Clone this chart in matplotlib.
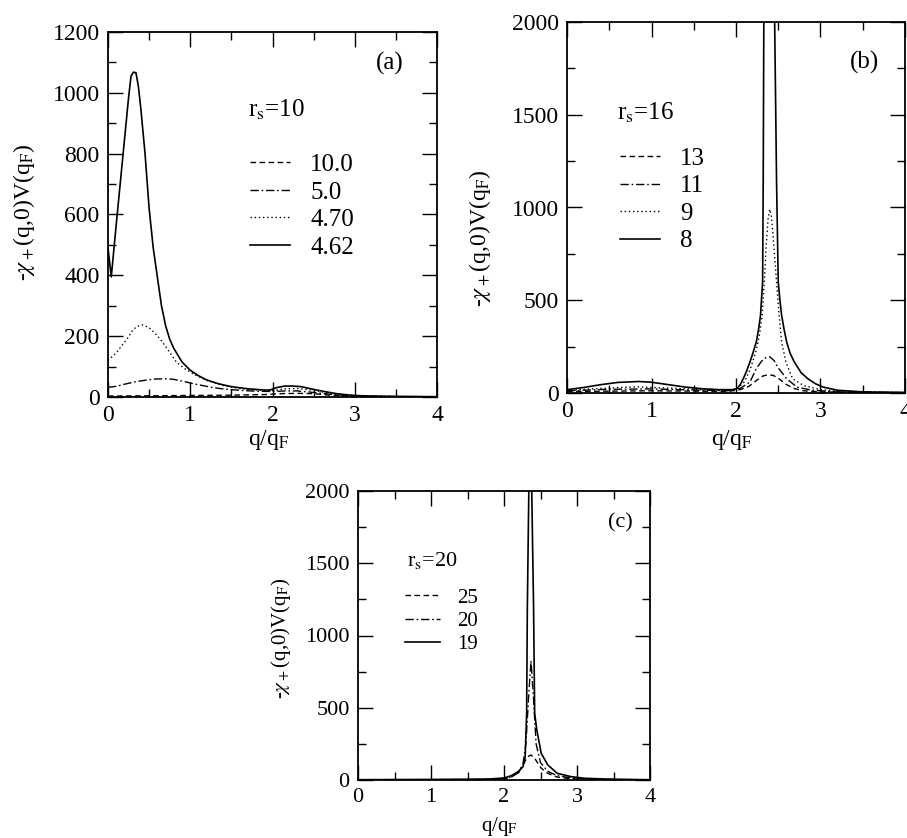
import numpy as np
import matplotlib
matplotlib.use("Agg")
import matplotlib.pyplot as plt
from matplotlib.ticker import MultipleLocator

plt.rcParams['font.family'] = ['Liberation Serif', 'DejaVu Serif']
plt.rcParams['mathtext.fontset'] = 'stix'

# ---------------- data ----------------
# panel (a), r_s = 10
qa_solid = [0, 0.04, 0.1, 0.15, 0.2, 0.25, 0.28, 0.31, 0.34, 0.37, 0.4, 0.45, 0.5,
            0.55, 0.6, 0.65, 0.7, 0.75, 0.8, 0.9, 1.0, 1.1, 1.2, 1.35, 1.5, 1.7,
            1.9, 1.97, 2.05, 2.15, 2.25, 2.35, 2.5, 2.65, 2.8, 3.0, 3.2, 3.5, 4.0]
va_solid = [490, 395, 567, 706, 845, 984, 1055, 1068, 1066, 1020, 946, 801, 620,
            490, 395, 300, 235, 190, 160, 115, 88, 70, 56, 43, 34, 27,
            23, 23, 31, 36, 36, 34, 25, 17, 10, 5, 3, 2, 1]
qa_dot = [0, 0.1, 0.2, 0.25, 0.3, 0.35, 0.42, 0.5, 0.57, 0.65, 0.73, 0.83, 0.94,
          1.05, 1.2, 1.4, 1.6, 1.8, 2.0, 2.15, 2.3, 2.5, 2.7, 3.0, 3.5, 4.0]
va_dot = [120, 145, 180, 198, 220, 232, 237, 228, 210, 185, 155, 115, 92,
          74, 55, 38, 28, 23, 21, 27, 28, 22, 12, 4, 2, 1]
qa_dashdot = [0, 0.1, 0.2, 0.33, 0.45, 0.57, 0.7, 0.8, 0.94, 1.05, 1.18, 1.3, 1.42,
              1.6, 1.8, 2.0, 2.15, 2.3, 2.5, 2.7, 3.0, 3.5, 4.0]
va_dashdot = [32, 35, 42, 50, 55, 59, 60, 58, 50, 43, 36, 30, 26,
              22, 19, 18, 20, 20, 15, 9, 3, 1, 0.5]
qa_dash = [0, 0.5, 1.0, 1.5, 1.9, 2.1, 2.3, 2.5, 2.7, 3.0, 3.5, 4.0]
va_dash = [3, 4, 5, 6, 8, 11, 12, 11, 6, 2, 1, 0.5]
labels_a = ['10.0', '5.0', '4.70', '4.62']

# panel (b), r_s = 16
qb_solid = [0, 0.2, 0.4, 0.6, 0.85, 1.0, 1.2, 1.4, 1.6, 1.8, 1.95, 2.01, 2.05,
            2.086, 2.125, 2.165, 2.2, 2.24, 2.27, 2.29, 2.315, 2.322, 2.33, 2.40,
            2.455, 2.48, 2.50, 2.52, 2.54, 2.57, 2.60, 2.64, 2.69, 2.77, 2.85,
            2.94, 3.03, 3.2, 3.5, 4.0]
vb_solid = [18, 30, 45, 57, 62, 58, 45, 32, 23, 18, 18, 23, 45,
            77, 118, 167, 215, 275, 350, 419, 598, 1137, 2100, 3000,
            2100, 1137, 598, 500, 419, 340, 275, 215, 167, 110, 77,
            50, 32, 15, 6, 3]
qb_dot = [0, 0.4, 0.8, 1.3, 1.7, 2.0, 2.1, 2.17, 2.24, 2.28, 2.31, 2.335, 2.355,
          2.38, 2.40, 2.42, 2.435, 2.46, 2.48, 2.51, 2.54, 2.59, 2.67, 2.8, 3.0,
          3.2, 3.5, 4.0]
vb_dot = [15, 25, 33, 25, 15, 18, 60, 130, 230, 320, 419, 598, 778,
          940, 990, 950, 868, 720, 598, 419, 275, 167, 77, 40, 18,
          10, 5, 2]
qb_dashdot = [0, 0.5, 1.0, 1.5, 1.9, 2.05, 2.165, 2.24, 2.3, 2.35, 2.40, 2.45,
              2.5, 2.6, 2.72, 2.9, 3.2, 4.0]
vb_dashdot = [12, 20, 22, 16, 12, 25, 59, 131, 170, 190, 195, 175,
              135, 77, 32, 15, 6, 2]
qb_dash = [0, 0.5, 1.0, 1.5, 1.9, 2.05, 2.15, 2.25, 2.32, 2.38, 2.44, 2.5, 2.58,
           2.68, 2.8, 3.0, 3.5, 4.0]
vb_dash = [8, 10, 12, 10, 8, 18, 35, 70, 92, 98, 95, 80, 50,
           25, 12, 6, 3, 1]
labels_b = ['13', '11', '9', '8']

# panel (c), r_s = 20
qc_solid = [0, 0.5, 1.0, 1.5, 1.8, 2.0, 2.1, 2.2, 2.26, 2.29, 2.31, 2.32, 2.34,
            2.36, 2.38, 2.405, 2.42, 2.45, 2.51, 2.6, 2.73, 2.92, 3.1, 3.5, 4.0]
vc_solid = [2, 3, 4, 5, 7, 14, 30, 60, 92, 161, 461, 1200, 2000,
            2600, 2000, 1200, 461, 345, 184, 104, 46, 23, 12, 5, 2]
qc_dashdot = [0, 1.0, 1.8, 2.0, 2.1, 2.2, 2.26, 2.3, 2.34, 2.37, 2.40, 2.44, 2.5,
              2.6, 2.73, 2.92, 3.2, 4.0]
vc_dashdot = [1, 2, 4, 10, 22, 50, 110, 250, 600, 825, 600, 250, 120,
              60, 30, 14, 6, 1]
qc_dash = [0, 1.0, 1.8, 2.0, 2.1, 2.2, 2.26, 2.32, 2.37, 2.42, 2.51, 2.6, 2.73,
           2.92, 3.2, 4.0]
vc_dash = [1, 2, 3, 8, 20, 55, 104, 160, 173, 150, 81, 46, 20,
           9, 4, 1]
labels_c = ['25', '20', '19']

# ---------------- styles ----------------
ls_dash = (0, (4, 2.5))
ls_dashdot = (0, (6, 2, 1.2, 2))
ls_dot = (0, (1, 2))
lw = 1.0

W, H = 907, 838
fig = plt.figure(figsize=(W / 100, H / 100), dpi=100)


def make_axes(x0, y0, x1, y1):
    # pixel box -> figure fraction
    return fig.add_axes([x0 / W, 1 - y1 / H, (x1 - x0) / W, (y1 - y0) / H])


def style(ax, ymax, ymaj, ymin, fs):
    ax.set_xlim(0, 4)
    ax.set_ylim(0, ymax)
    ax.xaxis.set_major_locator(MultipleLocator(1))
    ax.xaxis.set_minor_locator(MultipleLocator(0.5))
    ax.yaxis.set_major_locator(MultipleLocator(ymaj))
    ax.yaxis.set_minor_locator(MultipleLocator(ymin))
    ax.tick_params(which='both', direction='in', top=True, right=True,
                   labelsize=fs, pad=6, width=1.0)
    ax.tick_params(which='major', length=11)
    ax.tick_params(which='minor', length=6)
    for s in ax.spines.values():
        s.set_linewidth(1.3)


# (a)
ax = make_axes(108, 32, 437, 397)
ax.plot(qa_dash, va_dash, color='k', lw=lw, ls=ls_dash, label=labels_a[0])
ax.plot(qa_dashdot, va_dashdot, color='k', lw=lw, ls=ls_dashdot, label=labels_a[1])
ax.plot(qa_dot, va_dot, color='k', lw=lw, ls=ls_dot, label=labels_a[2])
ax.plot(qa_solid, va_solid, color='k', lw=1.2, label=labels_a[3])
style(ax, 1200, 200, 100, 17)
ax.set_xlabel('q/q$_\\mathrm{F}$', fontsize=17)
ax.set_ylabel('-$\\chi_+$(q,0)V(q$_\\mathrm{F}$)', fontsize=17)
ax.xaxis.set_label_coords(0.49, -0.085)
ax.yaxis.set_label_coords(-0.216, 0.507)
ax.text(0.857, 0.915, '(a)', transform=ax.transAxes, fontsize=18,
        ha='center', va='center')
ax.text(0.426, 0.786, 'r$_\\mathrm{s}$=10', transform=ax.transAxes, fontsize=18,
        ha='left', va='center')
ax.legend(loc='upper left', bbox_to_anchor=(0.432, 0.667), frameon=False,
          fontsize=18, borderpad=0, borderaxespad=0, handlelength=1.6,
          handletextpad=0.8, labelspacing=0.2)

# (b)
ax = make_axes(567, 22, 905, 393)
ax.plot(qb_dash, vb_dash, color='k', lw=lw, ls=ls_dash, label=labels_b[0])
ax.plot(qb_dashdot, vb_dashdot, color='k', lw=lw, ls=ls_dashdot, label=labels_b[1])
ax.plot(qb_dot, vb_dot, color='k', lw=lw, ls=ls_dot, label=labels_b[2])
ax.plot(qb_solid, vb_solid, color='k', lw=1.2, label=labels_b[3])
style(ax, 2000, 500, 250, 17)
ax.set_xlabel('q/q$_\\mathrm{F}$', fontsize=17)
ax.set_ylabel('-$\\chi_+$(q,0)V(q$_\\mathrm{F}$)', fontsize=17)
ax.xaxis.set_label_coords(0.488, -0.094)
ax.yaxis.set_label_coords(-0.219, 0.418)
ax.text(0.88, 0.89, '(b)', transform=ax.transAxes, fontsize=18,
        ha='center', va='center')
ax.text(0.148, 0.755, 'r$_\\mathrm{s}$=16', transform=ax.transAxes, fontsize=18,
        ha='left', va='center')
ax.legend(loc='upper left', bbox_to_anchor=(0.157, 0.662), frameon=False,
          fontsize=18, borderpad=0, borderaxespad=0, handlelength=1.6,
          handletextpad=0.8, labelspacing=0.2)

# (c)
ax = make_axes(358, 491, 650, 780)
ax.plot(qc_dash, vc_dash, color='k', lw=lw, ls=ls_dash, label=labels_c[0])
ax.plot(qc_dashdot, vc_dashdot, color='k', lw=lw, ls=ls_dashdot, label=labels_c[1])
ax.plot(qc_solid, vc_solid, color='k', lw=1.2, label=labels_c[2])
style(ax, 2000, 500, 250, 16)
ax.set_xlabel('q/q$_\\mathrm{F}$', fontsize=15)
ax.set_ylabel('-$\\chi_+$(q,0)V(q$_\\mathrm{F}$)', fontsize=15)
ax.xaxis.set_label_coords(0.486, -0.121)
ax.yaxis.set_label_coords(-0.223, 0.49)
ax.text(0.90, 0.89, '(c)', transform=ax.transAxes, fontsize=16,
        ha='center', va='center')
ax.text(0.168, 0.761, 'r$_\\mathrm{s}$=20', transform=ax.transAxes, fontsize=16,
        ha='left', va='center')
ax.legend(loc='upper left', bbox_to_anchor=(0.161, 0.664), frameon=False,
          fontsize=15, borderpad=0, borderaxespad=0, handlelength=1.7,
          handletextpad=0.8, labelspacing=0.17)

fig.savefig('out.png', dpi=100)
